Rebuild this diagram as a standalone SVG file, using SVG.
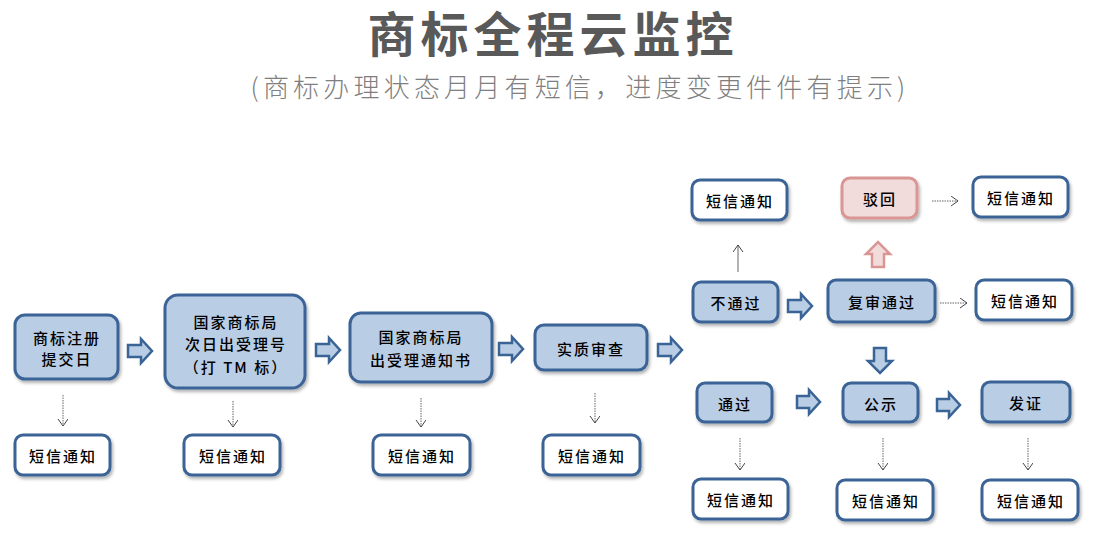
<svg xmlns="http://www.w3.org/2000/svg" width="1099" height="553" viewBox="0 0 1099 553">
<defs>
<style>
.n{fill:#B9CDE5;stroke:#3B6496;stroke-width:3;filter:url(#sh)}
.w{fill:#FFFFFF;stroke:#3B6496;stroke-width:3;filter:url(#sh)}
.p{fill:#F2DCDB;stroke:#D99694;stroke-width:3;filter:url(#sh)}
.t{font-family:"Noto Sans CJK SC","Noto Sans CJK JP",sans-serif;font-size:15px;font-weight:500;fill:#000;text-anchor:middle;dominant-baseline:central;letter-spacing:2px}
.ba{fill:#B9CDE5;stroke:#3B6496;stroke-width:2.5;stroke-linejoin:miter}
.bp{fill:#F2DCDB;stroke:#D99694;stroke-width:2.5}
.d{stroke:#666;stroke-width:1;fill:none;stroke-dasharray:1.5 1;marker-end:url(#ah)}
.s{stroke:#666;stroke-width:1;fill:none;marker-end:url(#ah)}
</style>
<filter id="sh" x="-20%" y="-20%" width="150%" height="160%">
<feDropShadow dx="1.5" dy="2.5" stdDeviation="1.5" flood-color="#000" flood-opacity="0.3"/>
</filter>
<marker id="ah" markerUnits="userSpaceOnUse" markerWidth="12" markerHeight="12" refX="8" refY="5" orient="auto">
<path d="M1,0 L8,5 L1,10" fill="none" stroke="#444" stroke-width="1"/>
</marker>
</defs>
<rect width="1099" height="553" fill="#FFFFFF"/>
<text x="553" y="52" font-family="&quot;Noto Sans CJK SC&quot;,sans-serif" font-size="48" font-weight="bold" fill="#595959" text-anchor="middle" letter-spacing="5">商标全程云监控</text>
<text x="580" y="97" font-family="&quot;Noto Sans CJK SC&quot;,sans-serif" font-size="26" font-weight="300" fill="#7F7F7F" text-anchor="middle" letter-spacing="4.2">(商标办理状态月月有短信，进度变更件件有提示)</text>

<g id="connectors">
<path class="ba" d="M128,345 h13 v-6 l11,12 l-11,12 v-6 h-13 z"/>
<path class="ba" d="M316,344 h13 v-6 l11,12 l-11,12 v-6 h-13 z"/>
<path class="ba" d="M499,343 h13 v-6 l11,12 l-11,12 v-6 h-13 z"/>
<path class="ba" d="M658,344 h13 v-6 l11,12 l-11,12 v-6 h-13 z"/>
<path class="ba" d="M788,300 h13 v-6 l11,12 l-11,12 v-6 h-13 z"/>
<path class="ba" d="M797,396 h12 v-6 l11,12 l-11,12 v-6 h-12 z"/>
<path class="ba" d="M937,399 h12 v-6 l11,12 l-11,12 v-6 h-12 z"/>
<path class="ba" d="M874,348 v13 h-6 l12,12 l12,-12 h-6 v-13 z"/>
<path class="bp" d="M872,267 v-13 h-6 l12,-12 l12,12 h-6 v13 z"/>
<line class="d" x1="63" y1="395" x2="63" y2="426"/>
<line class="d" x1="233" y1="401" x2="233" y2="427"/>
<line class="d" x1="421" y1="398" x2="421" y2="427"/>
<line class="d" x1="595" y1="393" x2="595" y2="423"/>
<line class="s" x1="738" y1="272" x2="738" y2="245"/>
<line class="d" x1="932" y1="201" x2="958" y2="201"/>
<line class="d" x1="940" y1="303" x2="967" y2="303"/>
<line class="d" x1="740" y1="438" x2="740" y2="470"/>
<line class="d" x1="883" y1="438" x2="883" y2="470"/>
<line class="d" x1="1028" y1="438" x2="1028" y2="470"/>
</g>

<g id="n1"><rect class="n" x="15" y="315" width="103" height="64" rx="10"/><text class="t" x="67" y="337">商标注册</text><text class="t" x="67" y="358">提交日</text></g>
<g id="n2"><rect class="n" x="165" y="295" width="140" height="93" rx="13"/><text class="t" x="236" y="321">国家商标局</text><text class="t" x="236" y="343">次日出受理号</text><text class="t" x="236" y="366">（打 TM 标）</text></g>
<g id="n3"><rect class="n" x="350" y="313" width="142" height="69" rx="11"/><text class="t" x="421" y="336">国家商标局</text><text class="t" x="421" y="359">出受理通知书</text></g>
<g id="n4"><rect class="n" x="535" y="325" width="112" height="45" rx="9"/><text class="t" x="591" y="348">实质审查</text></g>
<g id="n5"><rect class="n" x="693" y="282" width="85" height="40" rx="8"/><text class="t" x="736" y="302">不通过</text></g>
<g id="n6"><rect class="n" x="828" y="280" width="107" height="42" rx="8"/><text class="t" x="882" y="301">复审通过</text></g>
<g id="n7"><rect class="p" x="842" y="178" width="75" height="40" rx="8"/><text class="t" x="880" y="198">驳回</text></g>
<g id="n8"><rect class="n" x="697" y="383" width="75" height="39" rx="8"/><text class="t" x="735" y="403">通过</text></g>
<g id="n9"><rect class="n" x="843" y="383" width="75" height="39" rx="8"/><text class="t" x="881" y="403">公示</text></g>
<g id="n10"><rect class="n" x="982" y="382" width="88" height="40" rx="8"/><text class="t" x="1026" y="402">发证</text></g>

<g id="s1"><rect class="w" x="15" y="435" width="95" height="40" rx="8"/><text class="t" x="63" y="455">短信通知</text></g>
<g id="s2"><rect class="w" x="184" y="435" width="96" height="40" rx="8"/><text class="t" x="233" y="455">短信通知</text></g>
<g id="s3"><rect class="w" x="373" y="435" width="97" height="40" rx="8"/><text class="t" x="422" y="455">短信通知</text></g>
<g id="s4"><rect class="w" x="543" y="435" width="97" height="40" rx="8"/><text class="t" x="592" y="455">短信通知</text></g>
<g id="s5"><rect class="w" x="692" y="180" width="95" height="40" rx="8"/><text class="t" x="740" y="200">短信通知</text></g>
<g id="s6"><rect class="w" x="973" y="177" width="95" height="40" rx="8"/><text class="t" x="1021" y="197">短信通知</text></g>
<g id="s7"><rect class="w" x="976" y="280" width="96" height="40" rx="8"/><text class="t" x="1025" y="300">短信通知</text></g>
<g id="s8"><rect class="w" x="693" y="479" width="95" height="40" rx="8"/><text class="t" x="741" y="499">短信通知</text></g>
<g id="s9"><rect class="w" x="837" y="480" width="96" height="40" rx="8"/><text class="t" x="886" y="500">短信通知</text></g>
<g id="s10"><rect class="w" x="982" y="480" width="96" height="40" rx="8"/><text class="t" x="1031" y="500">短信通知</text></g>
</svg>
